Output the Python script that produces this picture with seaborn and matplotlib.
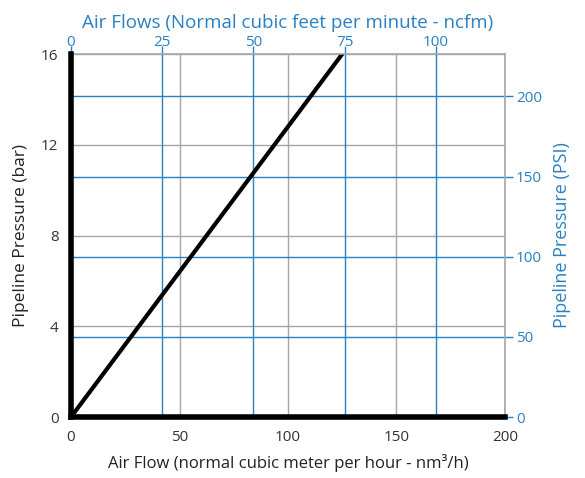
import numpy as np
import pandas as pd
import seaborn as sb
from matplotlib import pyplot as plt

# data
flow_nm3h = [0, 125]
pressure_bar = [0, 16]
bar_ticks = [0, 4, 8, 12, 16]
nm3h_ticks = [0, 50, 100, 150, 200]
cfm_ticks = [0, 25, 50, 75, 100]
psi_ticks = [0, 50, 100, 150, 200]
CFM_PER_NM3H = 0.595
PSI_PER_BAR = 14.15

blue = '#2a80c3'
grey = '#a6a6a6'

sb.set_style('white')
plt.rcParams['font.family'] = ['Open Sans', 'DejaVu Sans']

fig = plt.figure(figsize=(5.85, 4.78), dpi=100)
rect = [0.1214, 0.1276, 0.7418, 0.7594]

# grey grid (nm3/h / bar) at the very bottom
axg = fig.add_axes(rect)
axg.set_xlim(0, 200)
axg.set_ylim(0, 16)
axg.set_xticks(nm3h_ticks)
axg.set_yticks(bar_ticks)
axg.grid(True, color=grey, lw=1)
axg.tick_params(left=False, bottom=False, labelleft=False, labelbottom=False)
for s in axg.spines.values():
    s.set_visible(False)

# blue scales (ncfm / PSI) over the grey grid
axb = fig.add_axes(rect)
axb.patch.set_visible(False)
axb.set_xlim(0, 200 * CFM_PER_NM3H)
axb.set_ylim(0, 16 * PSI_PER_BAR)
axb.set_xticks(cfm_ticks)
axb.set_yticks(psi_ticks)
axb.grid(True, color=blue, lw=1)
axb.xaxis.tick_top()
axb.yaxis.tick_right()
axb.xaxis.set_label_position('top')
axb.yaxis.set_label_position('right')
axb.tick_params(colors=blue, labelsize=11, length=6, width=1, pad=2)
axb.tick_params(axis='x', length=6, pad=-3)
axb.set_xlabel('Air Flows (Normal cubic feet per minute - ncfm)', color=blue,
               fontsize=13.5, labelpad=5)
axb.set_ylabel('Pipeline Pressure (PSI)', color=blue, fontsize=13, labelpad=8)
for s in axb.spines.values():
    s.set_visible(False)

# main axes with the line, spines and black/grey ticks on top
ax = fig.add_axes(rect)
ax.patch.set_visible(False)
df = pd.DataFrame({'flow': flow_nm3h, 'pressure': pressure_bar})
sb.lineplot(data=df, x='flow', y='pressure', ax=ax, color='black', lw=3)
ax.set_xlim(0, 200)
ax.set_ylim(0, 16)
ax.set_xticks(nm3h_ticks)
ax.set_yticks(bar_ticks)
ax.grid(False)
ax.tick_params(axis='both', colors=grey, labelcolor='#333333', labelsize=11,
               length=6, width=1, pad=3)
ax.set_xlabel('Air Flow (normal cubic meter per hour - nm³/h)', fontsize=12,
              color='#222222', labelpad=7)
ax.set_ylabel('Pipeline Pressure (bar)', fontsize=12.5, color='#222222', labelpad=9)
for side in ['top', 'right']:
    ax.spines[side].set_color(grey)
    ax.spines[side].set_linewidth(1.2)
for side in ['left', 'bottom']:
    ax.spines[side].set_color('black')
    ax.spines[side].set_linewidth(4)
    ax.spines[side].set_zorder(5)

plt.savefig('out.png', dpi=100)
